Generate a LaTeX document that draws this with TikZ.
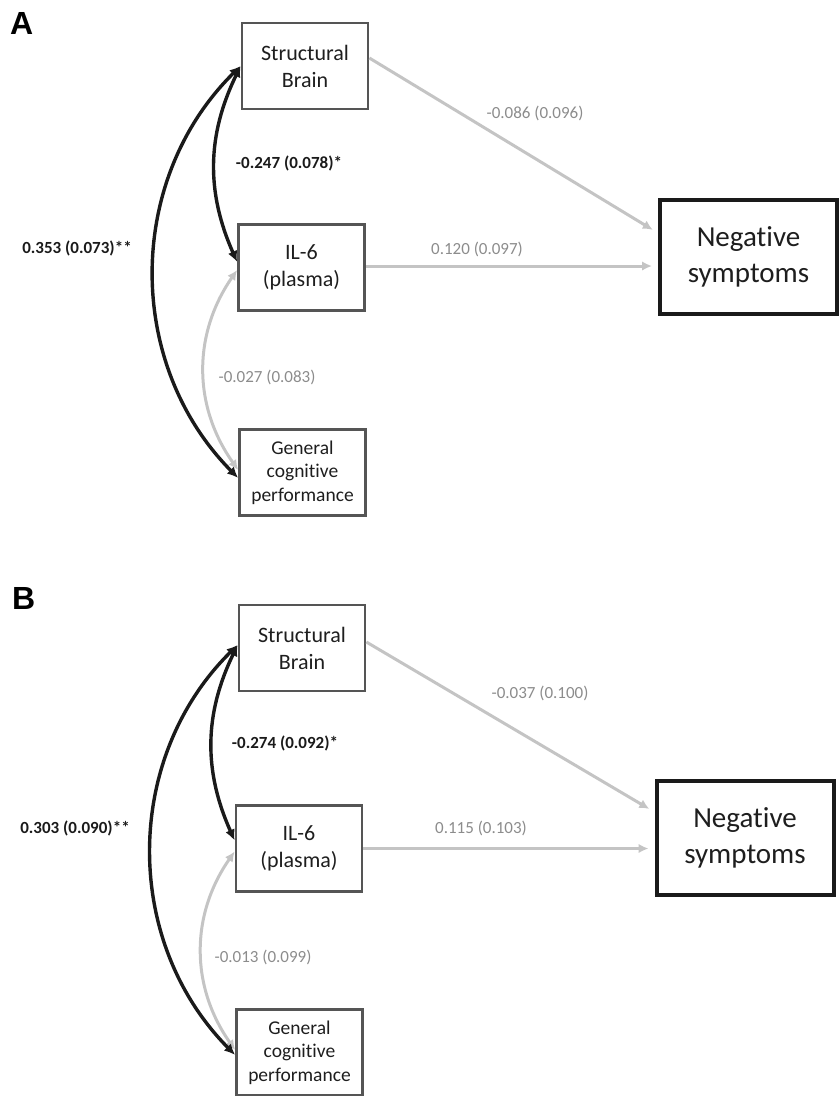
\documentclass[tikz,border=0pt]{standalone}
\usepackage{fontspec}
\setmainfont{Carlito}[Ligatures=NoCommon]
\newfontfamily\panelfont{Liberation Sans}
\usepackage{tikz}
\usetikzlibrary{arrows.meta,positioning}

\definecolor{boxgray}{HTML}{555555}
\definecolor{textdark}{HTML}{1E1E1E}
\definecolor{sigblack}{HTML}{1A1A1A}
\definecolor{nsgray}{HTML}{C4C4C4}
\definecolor{labelgray}{HTML}{8C8C8C}

\tikzset{
  var/.style={draw=boxgray,line width=2.7pt,minimum width=126pt,minimum height=86pt,
    align=center,text=textdark,inner sep=2pt,font=\fontsize{22}{27}\selectfont},
  cogvar/.style={var,font=\fontsize{19.5}{23.3}\selectfont},
  outcome/.style={draw=sigblack,line width=4pt,minimum width=177pt,minimum height=114pt,
    align=center,text=textdark,font=\fontsize{29}{36}\selectfont},
  sig/.style={draw=sigblack,line width=3.4pt,{Latex[length=11pt,width=10pt]}-{Latex[length=11pt,width=10pt]}},
  nonsig/.style={draw=nsgray,line width=3pt},
  siglabel/.style={text=sigblack,font=\bfseries\fontsize{17}{20}\selectfont},
  nslabel/.style={text=labelgray,font=\fontsize{17}{20}\selectfont},
  panel/.style={anchor=north west,inner sep=0pt,font=\panelfont\bfseries\fontsize{32}{34}\selectfont}
}

\begin{document}
\begin{tikzpicture}[x=1pt,y=-1pt,>={Latex[length=10pt,width=9.5pt]}]
  \useasboundingbox (0,0) rectangle (839,1096);

  % panel A
  \node[panel]   (labA)   at (10,12)      {A};
  \node[var]     (brainA) at (305,66)     {Structural\\Brain};
  \node[var]     (ilA)    at (301.5,267.5) {IL-6\\(plasma)};
  \node[cogvar]  (cogA)   at (302.5,472.5) {General\\cognitive\\performance};
  \node[outcome] (negA)   at (748.5,257)  {Negative\\symptoms};

  \draw[nonsig,->,shorten >=6pt] ([yshift=8pt]brainA.east) -- ([yshift=24pt]negA.west);
  \draw[nonsig,->,shorten >=6pt] ([yshift=1.5pt]ilA.east) -- ([yshift=1.5pt]ilA.east -| negA.west);
  \draw[nonsig,<->] ([yshift=-2.5pt]ilA.west) to[bend right=35] ([yshift=2.5pt]cogA.west);
  \draw[sig] (brainA.west) to[bend right=25] ([yshift=5.5pt]ilA.west);
  \draw[sig] (brainA.west) to[bend right=45] ([yshift=-5.5pt]cogA.west);

  \node[siglabel] (rBIA) at (289,163) {-0.247 (0.078)*};
  \node[siglabel] (rBCA) at (77,248)  {0.353 (0.073)**};
  \node[nslabel]  (rICA) at (267,377) {-0.027 (0.083)};
  \node[nslabel]  (bBNA) at (535,113) {-0.086 (0.096)};
  \node[nslabel]  (bINA) at (477,249) {0.120 (0.097)};

  % panel B
  \node[panel]   (labB)   at (12,587)     {B};
  \node[var]     (brainB) at (302,648)    {Structural\\Brain};
  \node[var]     (ilB)    at (299,848.5)  {IL-6\\(plasma)};
  \node[cogvar]  (cogB)   at (299.5,1052.5) {General\\cognitive\\performance};
  \node[outcome] (negB)   at (745,838)    {Negative\\symptoms};

  \draw[nonsig,->,shorten >=6pt] ([yshift=6pt]brainB.east) -- ([yshift=26pt]negB.west);
  \draw[nonsig,->,shorten >=6pt] (ilB.east) -- (ilB.east -| negB.west);
  \draw[nonsig,<->] ([yshift=-3pt]ilB.west) to[bend right=35] ([yshift=2.5pt]cogB.west);
  \draw[sig] ([yshift=3pt]brainB.west) to[bend right=25] ([yshift=8pt]ilB.west);
  \draw[sig] ([yshift=3pt]brainB.west) to[bend right=45] ([yshift=-2.5pt]cogB.west);

  \node[siglabel] (rBIB) at (285,743) {-0.274 (0.092)*};
  \node[siglabel] (rBCB) at (75,828)  {0.303 (0.090)**};
  \node[nslabel]  (rICB) at (263,957) {-0.013 (0.099)};
  \node[nslabel]  (bBNB) at (540,693) {-0.037 (0.100)};
  \node[nslabel]  (bINB) at (481,828) {0.115 (0.103)};
\end{tikzpicture}
\end{document}
